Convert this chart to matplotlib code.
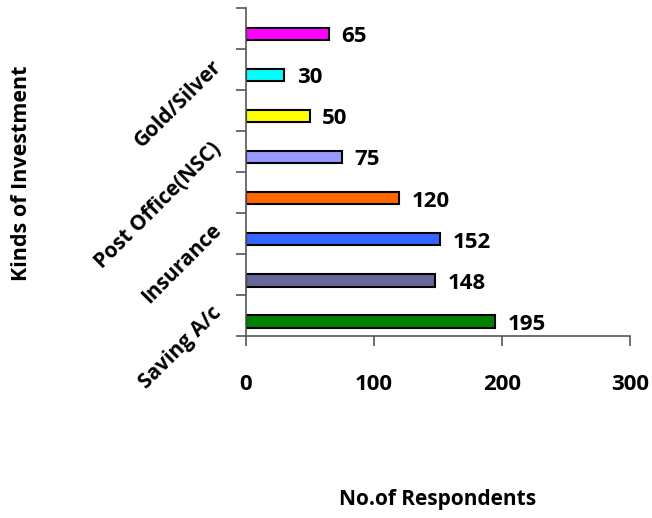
import matplotlib
matplotlib.use("agg")
import matplotlib.pyplot as plt
import numpy as np

# data, bottom to top
categories = ["Saving A/c", "", "Insurance", "", "Post Office(NSC)", "", "Gold/Silver", ""]
respondents = [195, 148, 152, 120, 75, 50, 30, 65]
colors = ["#008000", "#666699", "#3366FF", "#FF6600", "#9999FF", "#FFFF00", "#00FFFF", "#FF00FF"]
x_ticks = [0, 100, 200, 300]

plt.rcParams["font.family"] = ["Open Sans", "DejaVu Sans"]
plt.rcParams["font.weight"] = "bold"

fig = plt.figure(figsize=(6.52, 5.18), dpi=100)
ax = fig.add_axes([0.377, 0.351, 0.589, 0.634])

n = len(respondents)
ypos = np.arange(n) - 0.14
ax.barh(ypos, respondents, height=0.3, color=colors, edgecolor="black", linewidth=1.5)

for y, v in zip(ypos, respondents):
    ax.annotate(str(v), (v, y), xytext=(9, -2), textcoords="offset points",
                ha="left", va="center", fontsize=16, fontweight="bold")

ax.set_xlim(0, 300)
ax.set_ylim(-0.5, n - 0.5)
ax.set_xticks(x_ticks)
ax.set_xticklabels([str(t) for t in x_ticks], fontsize=16, fontweight="bold")
ax.tick_params(axis="x", length=7, width=1.2, color="#555555", pad=20)

# ticks on boundaries, labels at centers
ax.set_yticks(np.arange(n + 1) - 0.5)
ax.set_yticklabels([])
ax.tick_params(axis="y", length=7, width=1.2, color="#555555")
ax.set_yticks(np.arange(n) + 0.15, minor=True)
ax.set_yticklabels(categories, minor=True, rotation=45, ha="right", va="center",
                   rotation_mode="anchor", fontsize=15, fontweight="bold")
ax.tick_params(axis="y", which="minor", length=0, pad=20)

for s in ["top", "right"]:
    ax.spines[s].set_visible(False)
for s in ["left", "bottom"]:
    ax.spines[s].set_color("#555555")
    ax.spines[s].set_linewidth(1.2)

fig.text(0.671, 0.035, "No.of Respondents", ha="center", va="center", fontsize=15, fontweight="bold")
fig.text(0.033, 0.665, "Kinds of Investment", ha="center", va="center", rotation=90,
         fontsize=15.5, fontweight="bold")

fig.savefig("out.png", dpi=100)
